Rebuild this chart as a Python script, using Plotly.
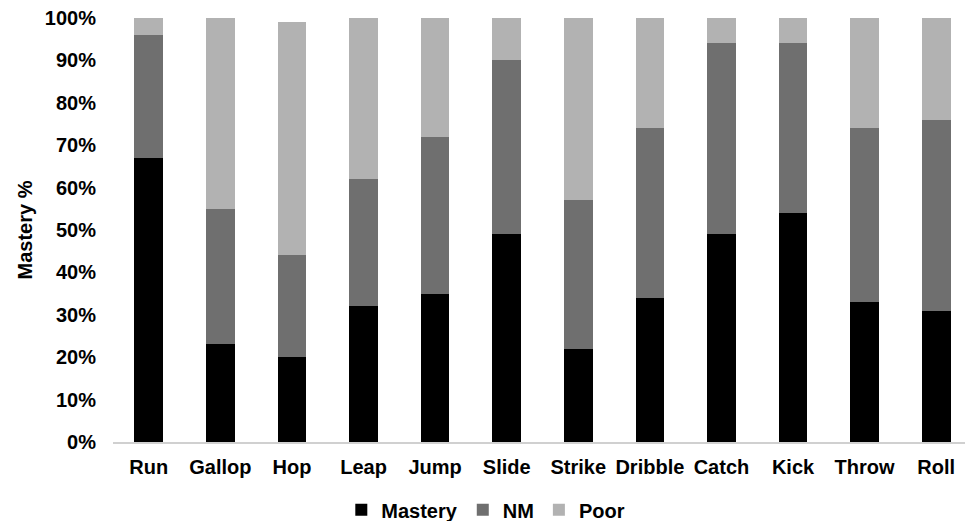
import plotly.graph_objects as go

categories = ["Run", "Gallop", "Hop", "Leap", "Jump", "Slide", "Strike", "Dribble", "Catch", "Kick", "Throw", "Roll"]
mastery = [67, 23, 20, 32, 35, 49, 22, 34, 49, 54, 33, 31]
nm = [29, 32, 24, 30, 37, 41, 35, 40, 45, 40, 41, 45]
poor = [4, 45, 55, 38, 28, 10, 43, 26, 6, 6, 26, 24]

series = [("Mastery", mastery, "#000000"), ("NM", nm, "#6f6f6f"), ("Poor", poor, "#b2b2b2")]

font_family = "Liberation Sans, Arial, sans-serif"
FS = 20

fig = go.Figure()
for name, vals, color in series:
    fig.add_trace(go.Bar(
        x=categories, y=[v / 100 for v in vals], name="<b>" + name + "</b>",
        marker=dict(color=color, line=dict(width=0)),
    ))

fig.update_layout(
    barmode="stack",
    bargap=0.6,
    width=965, height=513,
    margin=dict(l=105, r=1, t=10, b=79, autoexpand=False),
    plot_bgcolor="white", paper_bgcolor="white",
    font=dict(family=font_family, size=FS, color="#000000"),
    showlegend=True,
    legend=dict(orientation="h", x=0.434, xanchor="center", y=-0.16, yanchor="middle",
                font=dict(size=FS, family=font_family), traceorder="normal",
                itemwidth=30),
)
fig.update_xaxes(
    showline=True, linecolor="#d0d0d0", linewidth=2,
    showgrid=False, ticks="", ticklabelstandoff=6, automargin=False,
    tickfont=dict(size=FS, family=font_family),
    tickprefix="<b>", ticksuffix="</b>",
)
fig.update_yaxes(
    range=[0, 1], dtick=0.1, tickformat=".0%",
    showgrid=False, showline=False, zeroline=False, ticks="", automargin=False,
    ticklabelstandoff=16, ticklabeloverflow="allow",
    tickfont=dict(size=FS, family=font_family),
    tickprefix="<b>", ticksuffix="</b>",
    title=dict(text="<b>Mastery %</b>", font=dict(size=FS, family=font_family), standoff=6),
)

fig.write_html("out.html")
